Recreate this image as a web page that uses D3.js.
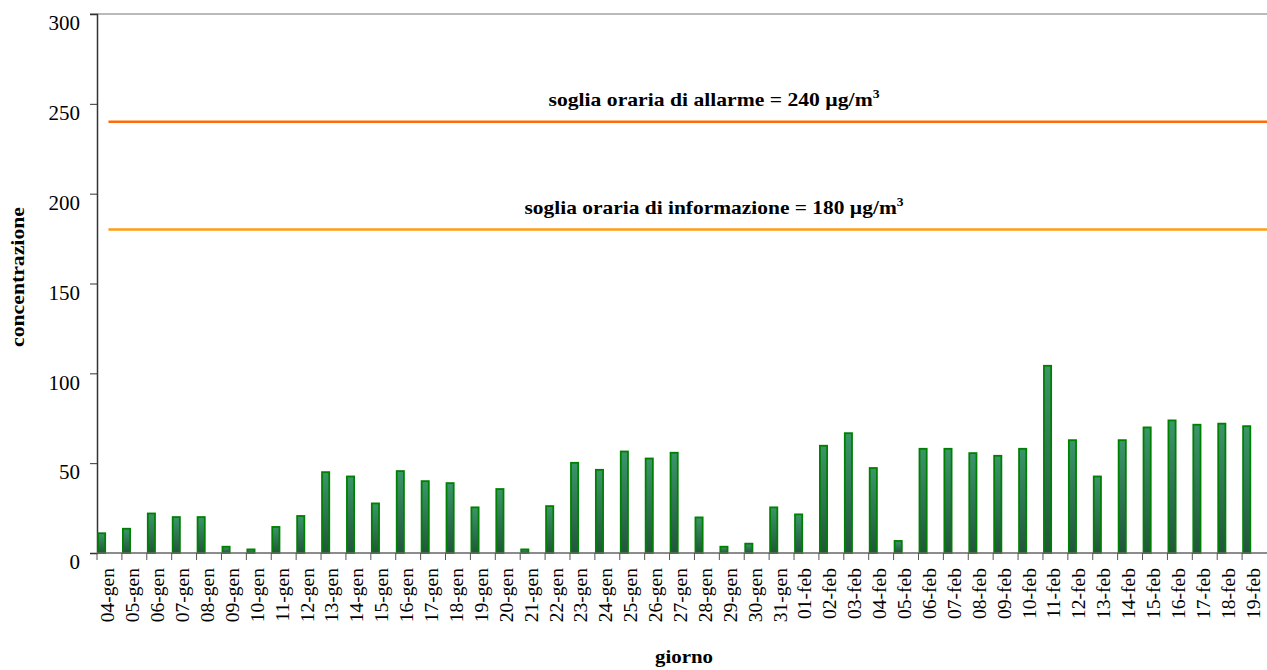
<!DOCTYPE html>
<html>
<head>
<meta charset="utf-8">
<script src="https://cdn.jsdelivr.net/npm/d3@7"></script>
<style>
  body { margin: 0; background: #fff; }
  svg text { font-family: "Liberation Serif", "DejaVu Serif", serif; }
</style>
</head>
<body>
<div id="chart"></div>
<script>
// days on the x axis
const giorni = [
  "04-gen","05-gen","06-gen","07-gen","08-gen","09-gen","10-gen","11-gen","12-gen","13-gen",
  "14-gen","15-gen","16-gen","17-gen","18-gen","19-gen","20-gen","21-gen","22-gen","23-gen",
  "24-gen","25-gen","26-gen","27-gen","28-gen","29-gen","30-gen","31-gen",
  "01-feb","02-feb","03-feb","04-feb","05-feb","06-feb","07-feb","08-feb","09-feb","10-feb",
  "11-feb","12-feb","13-feb","14-feb","15-feb","16-feb","17-feb","18-feb","19-feb"
];
// hourly max concentration (µg/m3)
const concentrazione = [
  11, 13.5, 22, 20, 20, 3.5, 2, 14.5, 20.6, 45,
  42.6, 27.6, 45.6, 40, 38.9, 25.4, 35.6, 2, 26.1, 50.2,
  46.3, 56.5, 52.6, 55.8, 19.8, 3.5, 5.2, 25.4,
  21.5, 59.7, 66.7, 47.3, 6.7, 58, 58, 55.6, 54.1, 58,
  104.2, 62.8, 42.6, 62.8, 69.9, 73.8, 71.4, 72, 70.6
];
const yTicks = [0, 50, 100, 150, 200, 250, 300];
const soglie = [
  { valore: 240, testo: "soglia oraria di allarme = 240 µg/m", colore: "#ff6a0a" },
  { valore: 180, testo: "soglia oraria di informazione = 180 µg/m", colore: "#ff9c12" }
];

const FONT = "Liberation Serif, DejaVu Serif, serif";
const width = 1267, height = 670;
const margin = { top: 14, right: 0, bottom: 117, left: 97 };
const plotW = width - margin.left - margin.right;
const plotH = height - margin.top - margin.bottom;

const svg = d3.select("#chart").append("svg")
  .attr("width", width)
  .attr("height", height)
  .attr("font-family", FONT);

// bar gradient, rough take on the excel 3d look
const defs = svg.append("defs");
const grad = defs.append("linearGradient")
  .attr("id", "barGrad")
  .attr("x1", 0).attr("y1", 0).attr("x2", 0).attr("y2", 1);
grad.append("stop").attr("offset", "0%").attr("stop-color", "#3a966a");
grad.append("stop").attr("offset", "100%").attr("stop-color", "#22553c");

const g = svg.append("g").attr("transform", `translate(${margin.left},${margin.top})`);

const x = d3.scaleBand().domain(giorni).range([0, plotW]).padding(0);
const y = d3.scaleLinear().domain([0, 300]).range([plotH, 0]);

// top frame line
g.append("line")
  .attr("x1", -7).attr("x2", plotW)
  .attr("y1", 0).attr("y2", 0)
  .attr("stroke", "#777").attr("stroke-width", 1.2);

// y axis (labels sit a bit under their ticks, like the original)
const yAxis = g.append("g")
  .call(d3.axisLeft(y).tickValues(yTicks).tickSize(7).tickPadding(10))
  .attr("font-family", FONT);
yAxis.select(".domain").attr("stroke", "#333").attr("stroke-width", 1.5);
yAxis.selectAll(".tick line").attr("stroke", "#333");
yAxis.selectAll("text")
  .attr("font-size", 21)
  .attr("fill", "#000")
  .attr("y", 9);

// threshold lines
const lunghezze = [331, 379];
soglie.forEach((s, i) => {
  g.append("line")
    .attr("x1", x.bandwidth() / 2 - 1).attr("x2", plotW)
    .attr("y1", y(s.valore)).attr("y2", y(s.valore))
    .attr("stroke", s.colore).attr("stroke-width", 2.5);
  const t = g.append("text")
    .attr("x", 617)
    .attr("y", y(s.valore) - 15.5)
    .attr("text-anchor", "middle")
    .attr("font-weight", "bold")
    .attr("font-size", 19)
    .attr("textLength", lunghezze[i])
    .attr("lengthAdjust", "spacingAndGlyphs")
    .text(s.testo);
  t.append("tspan").attr("dy", -8).attr("font-size", 12).text("3");
});

// bars sit at the left of each category
const barW = 7.2;
g.append("g").selectAll("rect")
  .data(concentrazione)
  .enter().append("rect")
  .attr("x", (d, i) => x(giorni[i]) + 1)
  .attr("y", d => y(d))
  .attr("width", barW)
  .attr("height", d => y(0) - y(d))
  .attr("fill", "url(#barGrad)")
  .attr("stroke", "#008000")
  .attr("stroke-width", 1.8);

// x axis: ticks at category boundaries
const xAxis = g.append("g").attr("transform", `translate(0,${plotH})`);
xAxis.append("line")
  .attr("x1", 0).attr("x2", plotW)
  .attr("y1", 0).attr("y2", 0)
  .attr("stroke", "#666").attr("stroke-width", 1.5);
xAxis.selectAll(".tk")
  .data(giorni)
  .enter().append("line")
  .attr("class", "tk")
  .attr("x1", d => x(d)).attr("x2", d => x(d))
  .attr("y1", 0).attr("y2", 7)
  .attr("stroke", "#555");
xAxis.selectAll(".lbl")
  .data(giorni)
  .enter().append("text")
  .attr("class", "lbl")
  .attr("transform", d => `translate(${x(d) + x.bandwidth() / 2 + 5},15) rotate(-90)`)
  .attr("text-anchor", "end")
  .attr("font-size", 19.5)
  .text(d => d);

// axis titles
svg.append("text")
  .attr("x", 684).attr("y", 663)
  .attr("text-anchor", "middle")
  .attr("font-weight", "bold")
  .attr("font-size", 19)
  .attr("textLength", 58)
  .attr("lengthAdjust", "spacingAndGlyphs")
  .text("giorno");

svg.append("text")
  .attr("transform", "translate(24,277) rotate(-90)")
  .attr("text-anchor", "middle")
  .attr("font-weight", "bold")
  .attr("font-size", 19)
  .attr("textLength", 140)
  .attr("lengthAdjust", "spacingAndGlyphs")
  .text("concentrazione");
</script>
</body>
</html>
